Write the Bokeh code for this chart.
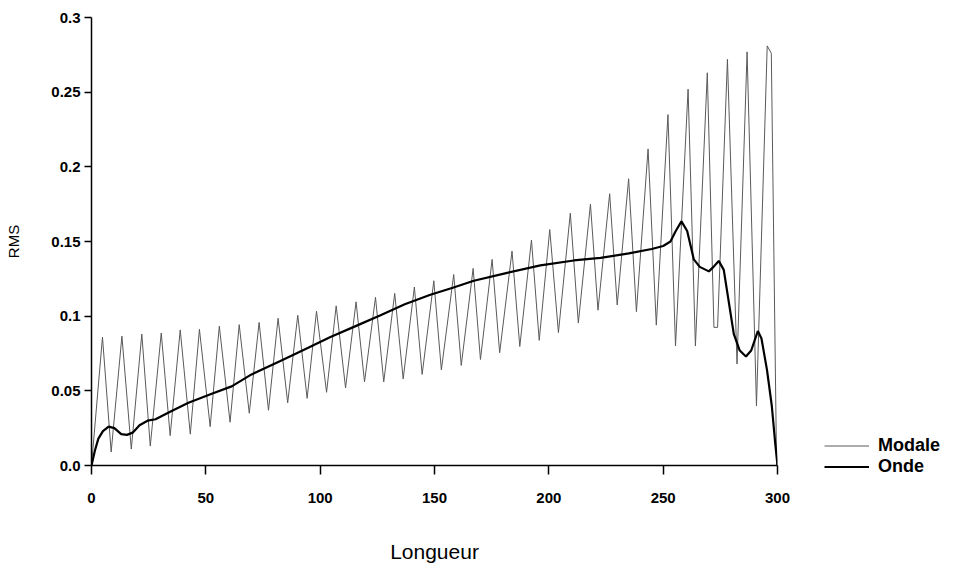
from bokeh.plotting import figure
from bokeh.models import FixedTicker, Legend, LegendItem, Range1d
from bokeh.embed import file_html
from bokeh.resources import INLINE

# ---- data ----
modale_x = [0.0, 4.8, 8.6, 13.3, 17.4, 22.0, 25.7, 30.5, 34.4, 38.8, 43.2, 47.2, 51.9,
            55.9, 60.6, 64.6, 69.0, 73.3, 77.4, 81.6, 85.8, 90.2, 94.3, 98.4, 102.8,
            107.0, 111.1, 115.7, 119.4, 124.2, 127.8, 132.6, 136.3, 141.2, 144.6, 149.7,
            153.0, 158.4, 161.7, 166.9, 170.1, 175.2, 178.5, 183.9, 187.3, 192.4, 195.8,
            200.4, 204.2, 209.4, 212.9, 218.2, 221.5, 226.6, 229.9, 234.9, 238.3, 243.4,
            247.0, 252.1, 255.4, 260.9, 264.1, 269.3, 272.2, 273.8, 278.1, 282.3, 286.7,
            290.8, 295.5, 297.3, 299.6]
modale_y = [0.0, 0.086, 0.009, 0.0866, 0.011, 0.088, 0.013, 0.0887, 0.020, 0.0908, 0.021,
            0.0912, 0.026, 0.0933, 0.029, 0.0943, 0.035, 0.0958, 0.037, 0.0986, 0.042,
            0.1006, 0.045, 0.1033, 0.049, 0.1069, 0.052, 0.1096, 0.056, 0.1126, 0.056,
            0.1153, 0.058, 0.1195, 0.061, 0.1237, 0.064, 0.1279, 0.067, 0.132, 0.071,
            0.138, 0.0755, 0.1436, 0.0797, 0.151, 0.0838, 0.158, 0.089, 0.169, 0.0954,
            0.175, 0.104, 0.182, 0.1075, 0.192, 0.103, 0.212, 0.094, 0.235, 0.080, 0.252,
            0.080, 0.263, 0.0925, 0.0925, 0.272, 0.068, 0.277, 0.040, 0.281, 0.276, 0.0]

onde_x = [0.0, 1.5, 3.0, 5.0, 7.5, 10.0, 13.0, 15.5, 18.0, 21.0, 24.5, 28.0, 34.4, 42.4,
          52.6, 61.3, 70.0, 82.6, 95.0, 104.5, 115.0, 126.4, 137.0, 148.2, 158.0, 167.2,
          181.8, 196.3, 210.9, 222.6, 235.0, 245.0, 250.0, 253.2, 255.5, 258.0, 260.5,
          263.4, 266.0, 270.0, 272.0, 274.3, 276.5, 280.9, 283.5, 286.2, 288.5, 291.4,
          293.0, 295.4, 297.5, 299.0, 300.0]
onde_y = [0.0, 0.010, 0.018, 0.023, 0.026, 0.025, 0.021, 0.0205, 0.022, 0.027, 0.030,
          0.031, 0.036, 0.042, 0.048, 0.053, 0.061, 0.070, 0.079, 0.086, 0.093, 0.1006,
          0.108, 0.1143, 0.119, 0.1237, 0.129, 0.134, 0.1373, 0.139, 0.142, 0.145, 0.147,
          0.150, 0.157, 0.1635, 0.157, 0.138, 0.133, 0.130, 0.133, 0.137, 0.131, 0.088,
          0.077, 0.073, 0.077, 0.090, 0.085, 0.064, 0.040, 0.015, 0.0]

x_ticks = [0, 50, 100, 150, 200, 250, 300]
y_ticks = [0.0, 0.05, 0.1, 0.15, 0.2, 0.25, 0.3]
y_tick_labels = ["0.0", "0.05", "0.1", "0.15", "0.2", "0.25", "0.3"]
series_names = ["Modale", "Onde"]

FONT = "Liberation Sans"

p = figure(frame_width=686, frame_height=448, output_backend="svg", toolbar_location=None,
           x_range=Range1d(0, 300), y_range=Range1d(0, 0.3),
           min_border_left=91, min_border_right=0, min_border_top=17,
           min_border_bottom=111)
p.background_fill_color = "white"
p.border_fill_color = "white"
p.outline_line_color = None
p.xgrid.visible = False
p.ygrid.visible = False

r_mod = p.line(modale_x, modale_y, line_color="#5a5a5a", line_width=1)
r_onde = p.line(onde_x, onde_y, line_color="black", line_width=2.2)

xa = p.xaxis[0]
xa.ticker = FixedTicker(ticks=x_ticks)
xa.axis_label = "Longueur"
ya = p.yaxis[0]
ya.ticker = FixedTicker(ticks=y_ticks)
ya.major_label_overrides = {t: l for t, l in zip(y_ticks, y_tick_labels)}
ya.axis_label = "RMS"

for ax in (xa, ya):
    ax.axis_line_color = "black"
    ax.axis_line_width = 1.5
    ax.major_tick_line_color = "black"
    ax.major_tick_line_width = 1.5
    ax.major_tick_in = 0
    ax.major_tick_out = 9
    ax.minor_tick_line_color = None
    ax.major_label_text_font = FONT
    ax.major_label_text_font_size = "15px"
    ax.major_label_text_font_style = "bold"
    ax.major_label_text_color = "black"
    ax.axis_label_text_font = FONT
    ax.axis_label_text_font_style = "normal"
    ax.axis_label_text_color = "black"

xa.major_label_standoff = 18
xa.axis_label_text_font_size = "21px"
xa.axis_label_standoff = 34
ya.major_tick_out = 7
ya.major_label_standoff = 4
ya.axis_label_text_font_size = "15px"
ya.axis_label_standoff = 26

legend = Legend(items=[LegendItem(label=series_names[0], renderers=[r_mod]),
                       LegendItem(label=series_names[1], renderers=[r_onde])],
                location=(47, -12), orientation="vertical")
legend.border_line_color = None
legend.background_fill_alpha = 0
legend.label_text_font = FONT
legend.label_text_font_size = "18px"
legend.label_text_font_style = "bold"
legend.label_text_color = "black"
legend.glyph_width = 45
legend.glyph_height = 17
legend.label_height = 17
legend.spacing = 0
legend.padding = 4
legend.margin = 0
legend.label_standoff = 9
p.add_layout(legend, "right")

open("out.html", "w").write(file_html(p, INLINE))
